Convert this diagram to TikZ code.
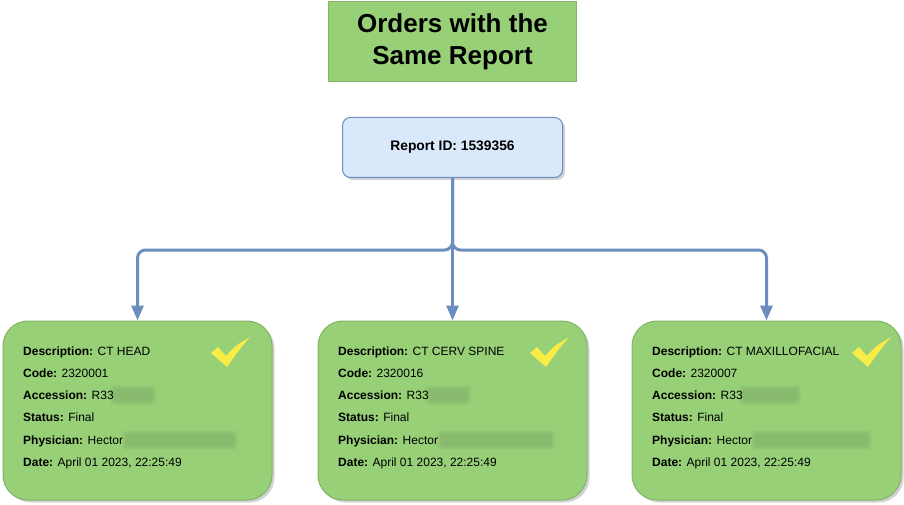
\documentclass[tikz,border=0pt]{standalone}
\usepackage{fontspec}
\setmainfont{Liberation Sans}
\usetikzlibrary{arrows.meta,shadows}
\definecolor{gfill}{HTML}{97D077}
\definecolor{gline}{HTML}{82B366}
\definecolor{bfill}{HTML}{DAE8FC}
\definecolor{bline}{HTML}{6C8EBF}
\definecolor{chk}{RGB}{250,236,70}
\definecolor{blurc}{RGB}{133,180,109}
\begin{document}
\begin{tikzpicture}[x=1pt,y=-1pt,
  titlebox/.style={draw=gline, line width=1.5pt, fill=gfill, minimum width=248pt, minimum height=80pt, inner sep=0pt, align=center, font=\bfseries\fontsize{26}{32}\selectfont},
  repbox/.style={draw=bline, line width=1pt, fill=bfill, rounded corners=8pt, minimum width=220pt, minimum height=60pt, inner sep=0pt, font=\bfseries\fontsize{13.8}{16}\selectfont,
    drop shadow={shadow xshift=2.5pt, shadow yshift=-2.5pt, opacity=0.25, fill=black!70}},
  cardbox/.style={draw=gline, line width=1pt, fill=gfill, rounded corners=25pt, minimum width=269pt, minimum height=179pt, inner sep=0pt,
    drop shadow={shadow xshift=2.5pt, shadow yshift=-2.5pt, opacity=0.25, fill=black!70}},
  cardline/.style={anchor=base west, inner sep=0pt, font=\fontsize{12}{14}\selectfont},
  conn/.style={draw=bline, line width=3pt, rounded corners=8pt, -{Triangle[width=12pt,length=15pt]}},
]
\useasboundingbox (0,0) rectangle (904,505);

\node[titlebox] (title) at (452.5,41.5) {Orders with the\\Same Report};
\node[repbox] (rep) at (452.5,147.5) {Report ID: 1539356};

\foreach \i/\cx/\desc/\code/\aw/\pw/\co in {1/137.5/CT HEAD/2320001/38/108/0, 2/452.5/CT CERV SPINE/2320016/38/110/4, 3/766.5/CT MAXILLOFACIAL/2320007/54/113/12} {
  \node[cardbox] (card\i) at (\cx,410.5) {};
  \pgfmathsetmacro{\lx}{\cx-134.5}
  % blurred areas
  \foreach \e/\o in {4/0.15, 3/0.15, 2/0.2, 1/0.25, 0/0.3} {
    \fill[blurc, opacity=\o, rounded corners=3pt] (\lx+111-\e, 389-\e) rectangle (\lx+111+\aw+\e, 401+\e);
    \fill[blurc, opacity=\o, rounded corners=3pt] (\lx+123-\e, 434-\e) rectangle (\lx+123+\pw+\e, 446+\e);
  }
  % check mark
  \fill[chk] (\lx+\co+208,353) -- (\lx+\co+215,347) -- (\lx+\co+223,356) .. controls (\lx+\co+232,346) .. (\lx+\co+247,337)
     .. controls (\lx+\co+236,350) .. (\lx+\co+224,367) -- cycle;
  % text lines
  \node[cardline] (desc\i) at (\lx+20,355) {\textbf{Description:} \desc};
  \node[cardline] (code\i) at (\lx+20,377) {\textbf{Code:} \code};
  \node[cardline] (acc\i) at (\lx+20,399) {\textbf{Accession:} R33};
  \node[cardline] (stat\i) at (\lx+20,421) {\textbf{Status:} Final};
  \node[cardline] (phys\i) at (\lx+20,444) {\textbf{Physician:} Hector};
  \node[cardline] (date\i) at (\lx+20,466) {\textbf{Date:} April 01 2023, 22:25:49};
}

\draw[conn] (rep.south) -- ++(0,72) -| (card1.north);
\draw[conn] (rep.south) -- (card2.north);
\draw[conn] (rep.south) -- ++(0,72) -| (card3.north);
\end{tikzpicture}
\end{document}
